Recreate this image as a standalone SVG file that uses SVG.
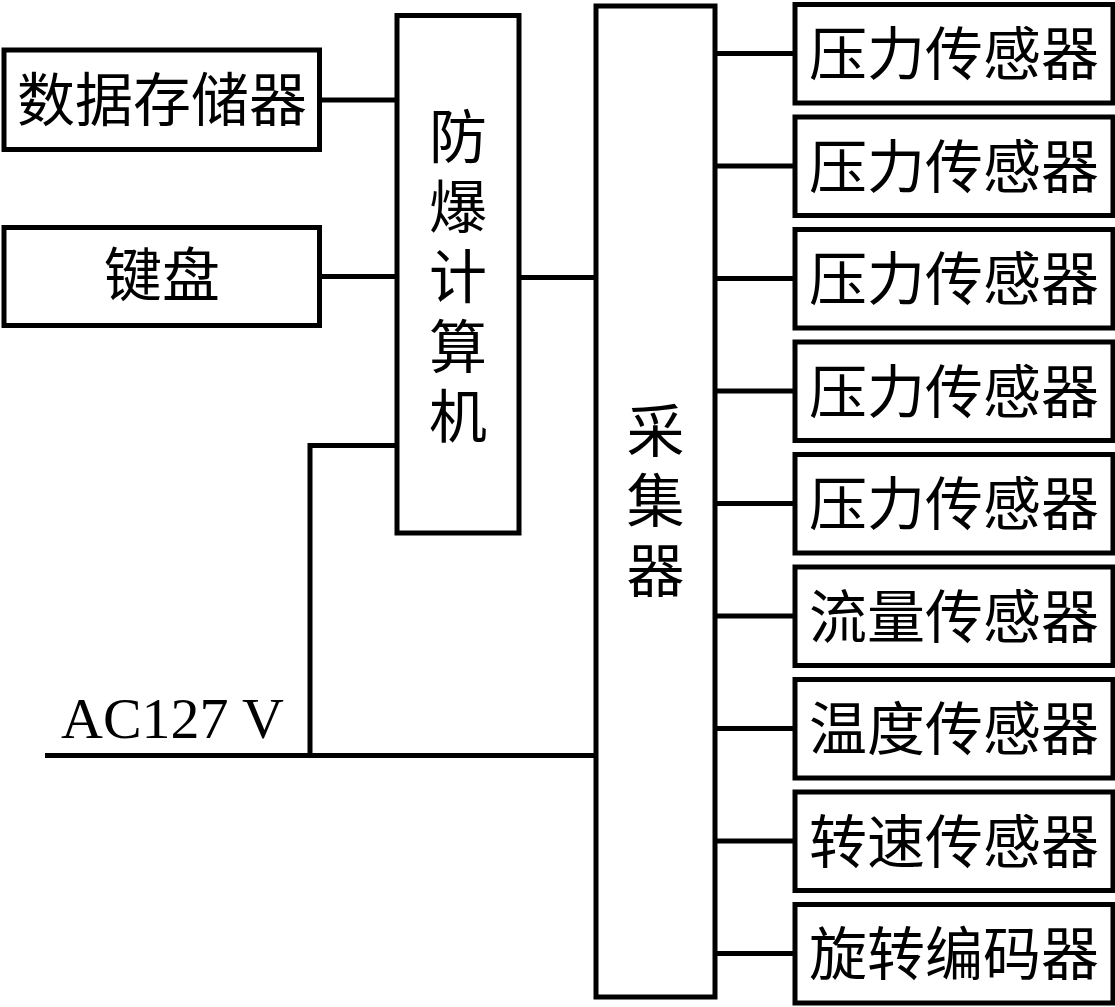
<svg xmlns="http://www.w3.org/2000/svg" width="1115" height="1007" viewBox="0 0 1115 1007">
<style>
.box{fill:#fff;stroke:#000;stroke-width:5}
.ln{fill:none;stroke:#000;stroke-width:5}
.t{font-family:"Noto Sans CJK SC","Noto Sans",sans-serif;font-size:58px;fill:#000;text-anchor:middle}
.v{font-family:"Noto Sans CJK SC","Noto Sans",sans-serif;font-size:58px;fill:#000;text-anchor:middle;writing-mode:vertical-rl;letter-spacing:12px}
.ac{font-family:"Liberation Serif","Times New Roman",serif;font-size:58px;fill:#000}
</style>
<rect width="1115" height="1007" fill="#fff"/>
<g id="connectors">
<path class="ln" d="M319.5,100 H397 M319.5,276.5 H397 M519,277.5 H596"/>
<path class="ln" d="M45,755.5 H596 M310,755.5 V445.5 H397"/>
<path class="ln" d="M715,53.5 H795 M715,166 H795 M715,278.5 H795 M715,391 H795 M715,503.5 H795 M715,616 H795 M715,728.5 H795 M715,841 H795 M715,953.5 H795"/>
</g>
<g id="storage"><rect class="box" x="4" y="50" width="315.5" height="99.5"/><text class="t" x="162" y="121">数据存储器</text></g>
<g id="keyboard"><rect class="box" x="4" y="227.5" width="315.5" height="98"/><text class="t" x="162" y="296">键盘</text></g>
<g id="computer"><rect class="box" x="397" y="15.5" width="122" height="517.5"/>
<text class="v" x="458" y="281.5">防爆计算机</text></g>
<g id="collector"><rect class="box" x="596" y="6" width="119" height="991"/>
<text class="v" x="655.5" y="506">采集器</text></g>
<g id="s1"><rect class="box" x="795" y="4.5" width="318" height="98.5"/><text class="t" x="954" y="75">压力传感器</text></g>
<g id="s2"><rect class="box" x="795" y="117" width="318" height="98.5"/><text class="t" x="954" y="187.5">压力传感器</text></g>
<g id="s3"><rect class="box" x="795" y="229.5" width="318" height="98.5"/><text class="t" x="954" y="300">压力传感器</text></g>
<g id="s4"><rect class="box" x="795" y="342" width="318" height="98.5"/><text class="t" x="954" y="412.5">压力传感器</text></g>
<g id="s5"><rect class="box" x="795" y="454.5" width="318" height="98.5"/><text class="t" x="954" y="525">压力传感器</text></g>
<g id="s6"><rect class="box" x="795" y="567" width="318" height="98.5"/><text class="t" x="954" y="637.5">流量传感器</text></g>
<g id="s7"><rect class="box" x="795" y="679.5" width="318" height="98.5"/><text class="t" x="954" y="750">温度传感器</text></g>
<g id="s8"><rect class="box" x="795" y="792" width="318" height="98.5"/><text class="t" x="954" y="862.5">转速传感器</text></g>
<g id="s9"><rect class="box" x="795" y="904.5" width="318" height="98.5"/><text class="t" x="954" y="975">旋转编码器</text></g>
<g id="ac-label"><text class="ac" x="61" y="738">AC127 V</text></g>
</svg>
